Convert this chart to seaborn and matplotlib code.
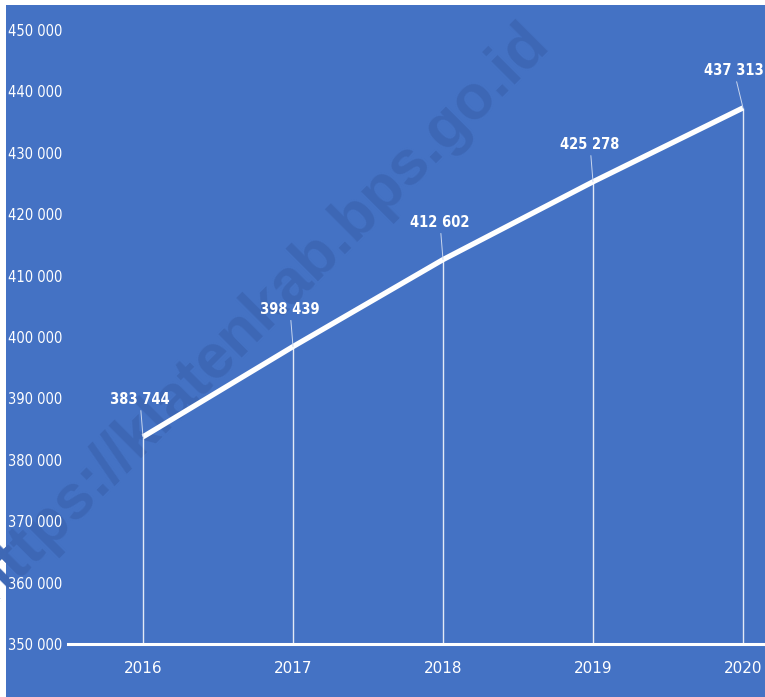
import os
import matplotlib
matplotlib.use("Agg")
import matplotlib.pyplot as plt
import matplotlib.font_manager as fm
import seaborn as sns
import pandas as pd
from matplotlib.patches import Rectangle
from matplotlib.ticker import FuncFormatter

# data
years = ["2016", "2017", "2018", "2019", "2020"]
values = [383744, 398439, 412602, 425278, 437313]
y_ticks = [350000, 360000, 370000, 380000, 390000, 400000, 410000, 420000, 430000, 440000, 450000]

df = pd.DataFrame({"year": years, "value": values})

sns.set_style("white")
plt.rcParams["font.family"] = ["DejaVu Sans"]


# look for a narrow font (Calibri-like look), fall back to DejaVu
def narrow_font(files, size, weight):
    paths = {os.path.basename(f.fname): f.fname for f in fm.fontManager.ttflist}
    for name in files:
        if name in paths:
            return fm.FontProperties(fname=paths[name], size=size)
    return fm.FontProperties(family="DejaVu Sans", size=size - 2, weight=weight)


reg_font = narrow_font(["LiberationSansNarrow-Regular.ttf", "DejaVuSansCondensed.ttf",
                        "RobotoCondensed-Regular.ttf", "NotoSans-Condensed.ttf"], 10.5, "normal")
bold_font = narrow_font(["LiberationSansNarrow-Bold.ttf", "DejaVuSansCondensed-Bold.ttf",
                         "RobotoCondensed-Bold.ttf", "NotoSans-CondensedBold.ttf"], 10.5, "bold")

bg = "#4472C4"
W, H = 765, 697
fig = plt.figure(figsize=(W / 100, H / 100), dpi=100, facecolor="white")
fig.patches.append(Rectangle((6 / W, 0), 1, 1 - 5 / H, transform=fig.transFigure,
                             facecolor=bg, edgecolor="none", zorder=0))

# watermark
fig.text(259 / W, 1 - 313 / H, "https://klatenkab.bps.go.id", rotation=45,
         ha="center", va="center", rotation_mode="anchor", fontsize=45,
         fontweight="bold", family="Liberation Sans", color="#3d67b5", zorder=1)

ax = fig.add_axes([68 / W, 53 / H, 750 / W, 614 / H])
ax.set_facecolor("none")
ax.set_zorder(3)

x = list(range(len(years)))
ax.vlines(x, 350000, values, color="white", lw=1.0, alpha=0.85, zorder=2)
sns.lineplot(x=x, y=df["value"], ax=ax, color="white", lw=3.8, zorder=3,
             solid_capstyle="butt")

for xi, v in zip(x, values):
    lbl = f"{v:,}".replace(",", " ")
    shift = 0.06 if xi == x[-1] else 0.02
    ax.annotate(lbl, xy=(xi, v), xytext=(xi - shift, v + 4800), ha="center", va="bottom",
                fontproperties=bold_font, color="white",
                arrowprops=dict(arrowstyle="-", color="#c9d6ee", lw=0.7,
                                shrinkA=0, shrinkB=0))

ax.set_xlim(-0.5, 4.5)
ax.set_ylim(350000, 450000)
ax.set_yticks(y_ticks)
ax.yaxis.set_major_formatter(FuncFormatter(lambda v, p: f"{int(v):,}".replace(",", " ")))
ax.set_xticks(x)
ax.set_xticklabels(years)
ax.tick_params(axis="y", colors="white", length=0, pad=43)
ax.tick_params(axis="x", colors="white", length=0, pad=12)
for lab in ax.get_xticklabels():
    lab.set_family("DejaVu Sans")
    lab.set_fontsize(11)
for lab in ax.get_yticklabels():
    lab.set_fontproperties(reg_font)
    lab.set_horizontalalignment("left")

for s in ["top", "right", "left"]:
    ax.spines[s].set_visible(False)
ax.spines["bottom"].set_color("white")
ax.spines["bottom"].set_linewidth(2.2)
ax.set_xlabel("")
ax.set_ylabel("")

fig.savefig("out.png", dpi=100, facecolor="white")
